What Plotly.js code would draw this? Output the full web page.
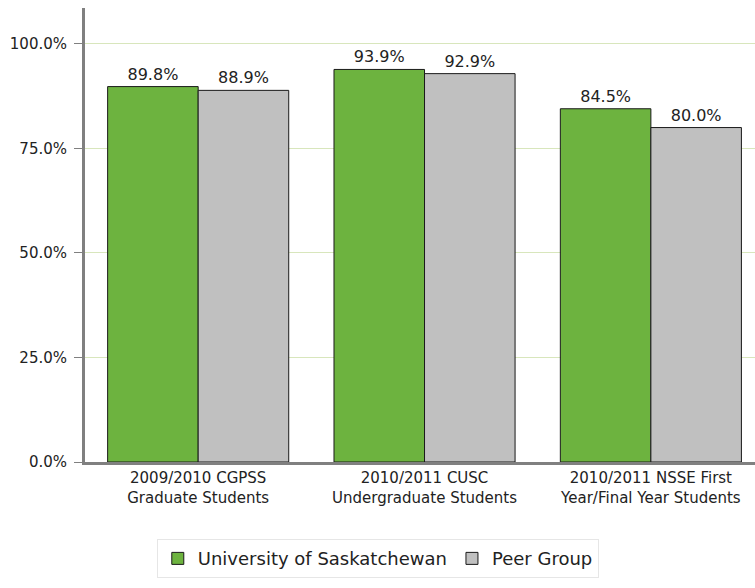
<!DOCTYPE html>
<html><head><meta charset="utf-8">
<script src="https://cdn.plot.ly/plotly-3.0.1.min.js"></script>
<style>body{margin:0;background:#fff}#c{width:755px;height:588px}</style>
</head><body><div id="c"></div>
<script>
const categories = ["2009/2010 CGPSS<br>Graduate Students", "2010/2011 CUSC<br>Undergraduate Students", "2010/2011 NSSE First<br>Year/Final Year Students"];
const uofsValues = [89.8, 93.9, 84.5];
const peerValues = [88.9, 92.9, 80.0];
const seriesNames = ["University of Saskatchewan", "Peer Group"];
const yTicks = [0, 25, 50, 75, 100];
const yTickText = yTicks.map(v => v.toFixed(1) + "%");

const fam = "DejaVu Sans, sans-serif";
const traces = [
  {type: "bar", name: seriesNames[0], x: [0,1,2], y: uofsValues,
   marker: {color: "#6db33f", line: {color: "#1a1a1a", width: 1}},
   texttemplate: "%{y:.1f}%", textposition: "outside", cliponaxis: false,
   textfont: {family: fam, size: 16, color: "#222"}, hoverinfo: "none"},
  {type: "bar", name: seriesNames[1], x: [0,1,2], y: peerValues,
   marker: {color: "#c0c0c0", line: {color: "#1a1a1a", width: 1}},
   texttemplate: "%{y:.1f}%", textposition: "outside", cliponaxis: false,
   textfont: {family: fam, size: 16, color: "#222"}, hoverinfo: "none"}
];
const layout = {
  width: 755, height: 588,
  margin: {l: 85, r: 0, t: 8, b: 126},
  font: {family: fam, size: 14, color: "#222"},
  paper_bgcolor: "#fff", plot_bgcolor: "#fff",
  barmode: "group", bargap: 0.2, bargroupgap: 0,
  showlegend: true,
  legend: {orientation: "h", x: 0.437, xanchor: "center", y: -0.17, yanchor: "top",
    bordercolor: "#e6e6e6", borderwidth: 1, font: {family: fam, size: 18, color: "#222"},
    itemwidth: 30, traceorder: "normal"},
  xaxis: {range: [-0.5, 2.46], tickvals: [0,1,2], ticktext: categories,
    showline: true, linecolor: "#808080", linewidth: 3, ticks: "", showgrid: false,
    zeroline: false, tickfont: {family: fam, size: 15, color: "#222"}, fixedrange: true},
  yaxis: {range: [0, 108.6], tickvals: yTicks, ticktext: yTickText,
    showline: true, linecolor: "#808080", linewidth: 3, ticks: "outside", ticklen: 8,
    tickcolor: "#808080", tickwidth: 1, showgrid: true, gridcolor: "#d8e6bc", gridwidth: 1,
    ticklabelstandoff: 4,
    zeroline: false, tickfont: {family: fam, size: 15, color: "#222"}, fixedrange: true}
};
Plotly.newPlot("c", traces, layout, {displayModeBar: false, staticPlot: true});
</script></body></html>
